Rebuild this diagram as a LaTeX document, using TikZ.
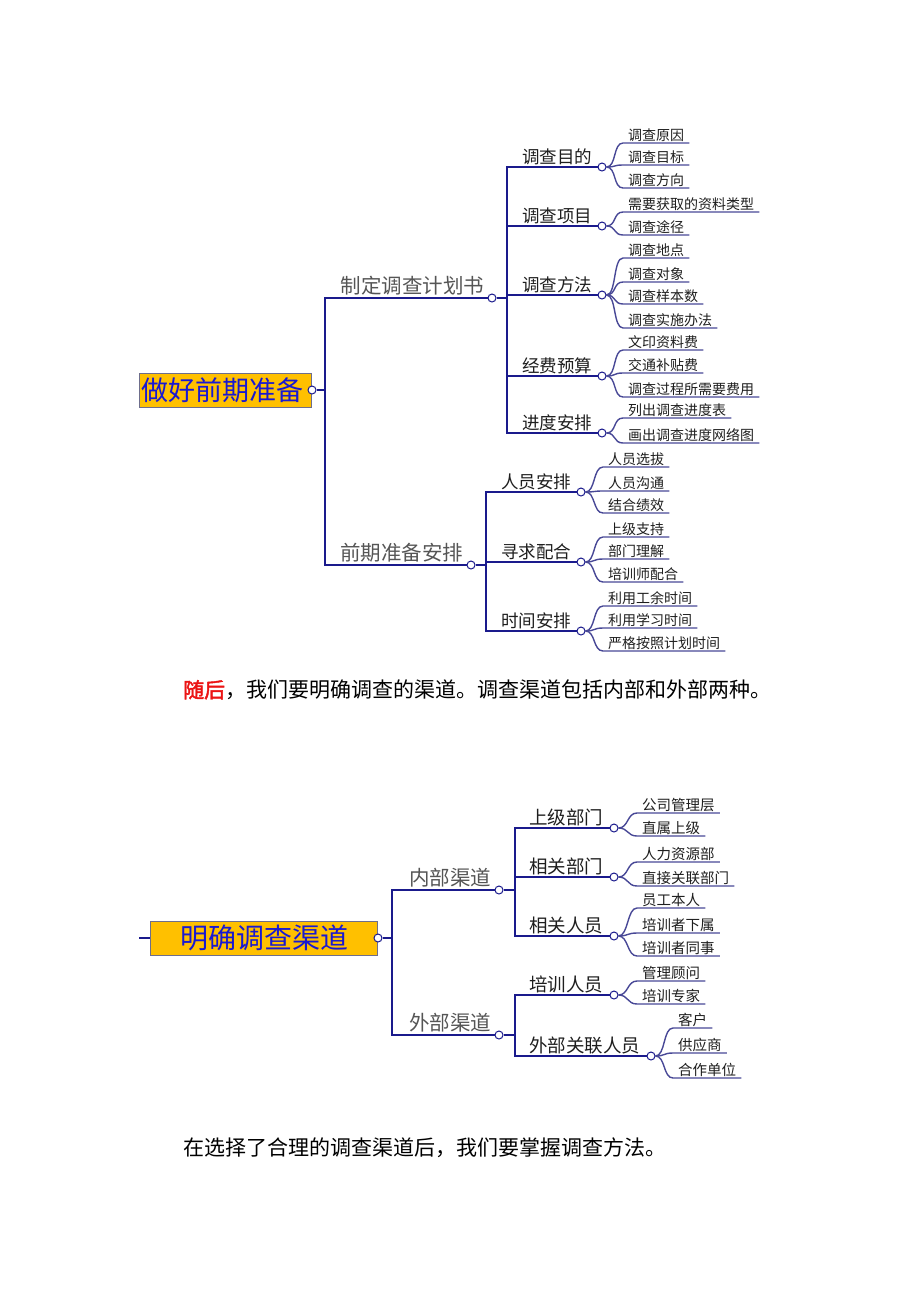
\documentclass[tikz,border=0pt]{standalone}
\usepackage{fontspec}
\setmainfont{Noto Sans CJK SC}[AutoFakeBold=2]
\usepackage{xcolor}
\usepackage{tikz}
\usetikzlibrary{positioning}
\definecolor{navyline}{RGB}{26,26,140}
\definecolor{twigblue}{RGB}{72,72,150}
\definecolor{rootfill}{RGB}{255,192,0}
\definecolor{rootedge}{RGB}{110,110,140}
\definecolor{roottext}{RGB}{25,25,210}
\definecolor{branchgray}{RGB}{85,85,85}
\definecolor{textdark}{RGB}{30,30,30}
\definecolor{notered}{RGB}{235,20,20}
\tikzset{
    root_node/.style = {draw=rootedge, fill=rootfill, text=roottext, line width=1pt, inner sep=0pt, minimum height=34pt, anchor=west},
    dot_node/.style = {circle, draw=navyline, fill=white, line width=1pt, minimum size=8pt, inner sep=0pt},
    branch_node/.style = {text=branchgray, inner sep=0pt, font=\fontsize{20.5}{20.5}\selectfont},
    sub_node/.style = {text=textdark, inner sep=0pt, font=\fontsize{17.5}{17.5}\selectfont},
    leaf_node/.style = {text=textdark, anchor=south west, inner xsep=5pt, inner ysep=1.5pt, font=\fontsize{14}{14}\selectfont},
    note_node/.style = {anchor=west, inner sep=0pt, text=black, font=\fontsize{21}{21}\selectfont},
    trunk/.style = {draw=navyline, line width=2.2pt},
    twig/.style = {draw=twigblue, line width=1.4pt}
}

\begin{document}
\begin{tikzpicture}[x=1pt, y=-1pt]
    \useasboundingbox (0,0) rectangle (920,1302);

    % first map
    \node [root_node, text width=168pt, align=left, inner xsep=2pt, font=\fontsize{27}{27}\selectfont] (r1) at (139,390) {做好前期准备};
    \node [dot_node] (d0) at (r1.east) {};
    \coordinate (j0) at (325,390);
    \node [dot_node] (d1) at (492,298) {};
    \node [dot_node] (d2) at (471,565) {};
    \node [branch_node, above left=3pt and 3pt of d1.west] (b1) {制定调查计划书};
    \node [branch_node, above left=3pt and 3pt of d2.west] (b2) {前期准备安排};
    \draw [trunk] (d0.east) -- (j0) |- (d1.west);
    \draw [trunk] (d0.east) -- (j0) |- (d2.west);
    \coordinate (j1) at (507,298);
    \coordinate (j2) at (486,565);

    \foreach \n/\y/\txt in {11/167/调查目的, 12/226/调查项目, 13/295/调查方法, 14/376/经费预算, 15/433/进度安排} {
        \node [dot_node] (d\n) at (602,\y) {};
        \node [sub_node, above left=2pt and 5pt of d\n.west] (s\n) {\txt};
        \draw [trunk] (d1.east) -- (j1) |- (d\n.west);
    }
    \foreach \n/\y/\txt in {21/492/人员安排, 22/562/寻求配合, 23/631/时间安排} {
        \node [dot_node] (d\n) at (581,\y) {};
        \node [sub_node, above left=2pt and 5pt of d\n.west] (s\n) {\txt};
        \draw [trunk] (d2.east) -- (j2) |- (d\n.west);
    }

    \foreach \p/\n/\y/\txt in {11/1/143/调查原因, 11/2/165/调查目标, 11/3/188/调查方向,
            12/1/212/需要获取的资料类型, 12/2/235/调查途径,
            13/1/258/调查地点, 13/2/282/调查对象, 13/3/304/调查样本数, 13/4/328/调查实施办法,
            14/1/350/文印资料费, 14/2/373/交通补贴费, 14/3/397/调查过程所需要费用,
            15/1/418/列出调查进度表, 15/2/443/画出调查进度网络图} {
        \node [leaf_node] (t\p\n) at (623,\y) {\txt};
        \draw [twig] (d\p.east) .. controls +(10,0) and +(-10,0) .. (t\p\n.south west) -- (t\p\n.south east);
    }
    \foreach \p/\n/\y/\txt in {21/1/467/人员选拔, 21/2/491/人员沟通, 21/3/513/结合绩效,
            22/1/537/上级支持, 22/2/559/部门理解, 22/3/582/培训师配合,
            23/1/606/利用工余时间, 23/2/628/利用学习时间, 23/3/651/严格按照计划时间} {
        \node [leaf_node] (t\p\n) at (603,\y) {\txt};
        \draw [twig] (d\p.east) .. controls +(10,0) and +(-10,0) .. (t\p\n.south west) -- (t\p\n.south east);
    }

    \node [note_node] (note1) at (183,690) {\textcolor{notered}{\textbf{随后}}，我们要明确调查的渠道。调查渠道包括内部和外部两种。};

    % second map
    \coordinate (s0) at (139,938);
    \node [root_node, minimum width=227pt, font=\fontsize{28}{28}\selectfont] (r2) at (150,938) {明确调查渠道};
    \draw [trunk] (s0) -- (r2.west);
    \node [dot_node] (d3) at (r2.east) {};
    \coordinate (j3) at (392,938);
    \node [dot_node] (d4) at (499,890) {};
    \node [dot_node] (d5) at (499,1035) {};
    \node [branch_node, above left=3pt and 3pt of d4.west] (b4) {内部渠道};
    \node [branch_node, above left=3pt and 3pt of d5.west] (b5) {外部渠道};
    \draw [trunk] (d3.east) -- (j3) |- (d4.west);
    \draw [trunk] (d3.east) -- (j3) |- (d5.west);
    \coordinate (j4) at (515,890);
    \coordinate (j5) at (515,1035);

    \foreach \n/\x/\y/\txt in {41/614/828/上级部门, 42/614/877/相关部门, 43/614/936/相关人员} {
        \node [dot_node] (d\n) at (\x,\y) {};
        \node [sub_node, font=\fontsize{18.5}{18.5}\selectfont, above left=2pt and 6pt of d\n.west] (s\n) {\txt};
        \draw [trunk] (d4.east) -- (j4) |- (d\n.west);
    }
    \foreach \n/\x/\y/\txt in {51/614/995/培训人员, 52/651/1056/外部关联人员} {
        \node [dot_node] (d\n) at (\x,\y) {};
        \node [sub_node, font=\fontsize{18.5}{18.5}\selectfont, above left=2pt and 6pt of d\n.west] (s\n) {\txt};
        \draw [trunk] (d5.east) -- (j5) |- (d\n.west);
    }

    \foreach \p/\n/\x/\y/\txt in {41/1/637/813/公司管理层, 41/2/637/836/直属上级,
            42/1/637/862/人力资源部, 42/2/637/886/直接关联部门,
            43/1/637/908/员工本人, 43/2/637/933/培训者下属, 43/3/637/956/培训者同事,
            51/1/637/981/管理顾问, 51/2/637/1004/培训专家,
            52/1/673/1028/客户, 52/2/673/1053/供应商, 52/3/673/1078/合作单位} {
        \node [leaf_node, font=\fontsize{14.5}{14.5}\selectfont] (t\p\n) at (\x,\y) {\txt};
        \draw [twig] (d\p.east) .. controls +(10,0) and +(-10,0) .. (t\p\n.south west) -- (t\p\n.south east);
    }

    \node [note_node] (note2) at (183,1148) {在选择了合理的调查渠道后，我们要掌握调查方法。};
\end{tikzpicture}
\end{document}
